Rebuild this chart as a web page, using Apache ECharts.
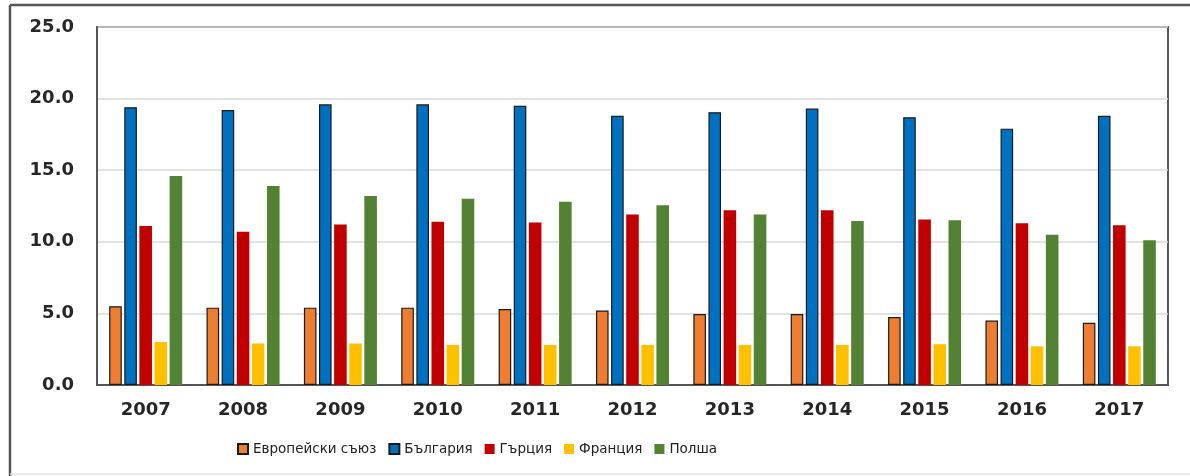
<!DOCTYPE html>
<html>
<head>
<meta charset="utf-8">
<script src="https://cdn.jsdelivr.net/npm/echarts@6/dist/echarts.min.js"></script>
<style>
  html, body { margin: 0; padding: 0; background: #ffffff; }
  #chart { width: 1190px; height: 476px; }
</style>
</head>
<body>
<div id="chart"></div>
<script>
// Years on the category axis
const years = ['2007', '2008', '2009', '2010', '2011', '2012', '2013', '2014', '2015', '2016', '2017'];

// Values per country, %
const euValues = [5.5, 5.4, 5.4, 5.4, 5.3, 5.2, 4.95, 4.95, 4.75, 4.5, 4.35];
const bulgariaValues = [19.4, 19.2, 19.6, 19.6, 19.5, 18.8, 19.05, 19.3, 18.7, 17.9, 18.8];
const greeceValues = [11.1, 10.7, 11.2, 11.4, 11.35, 11.9, 12.2, 12.2, 11.55, 11.3, 11.15];
const franceValues = [3.0, 2.9, 2.9, 2.8, 2.8, 2.8, 2.8, 2.8, 2.85, 2.7, 2.7];
const polandValues = [14.6, 13.9, 13.2, 13.0, 12.8, 12.55, 11.9, 11.45, 11.5, 10.5, 10.1];

// Series names shown in the legend
const seriesNames = ['Европейски съюз', 'България', 'Гърция', 'Франция', 'Полша'];

const chart = echarts.init(document.getElementById('chart'), null, { renderer: 'canvas' });

const labelFont = 'DejaVu Sans, Verdana, sans-serif';

function barSeries(name, data, color, outlined) {
  return {
    name: name,
    type: 'bar',
    data: data,
    barGap: '20%',
    barCategoryGap: '25%',
    itemStyle: outlined
      ? { color: color, borderColor: '#1a1a1a', borderWidth: 1.2 }
      : { color: color },
    emphasis: { disabled: true }
  };
}

chart.setOption({
  animation: false,
  backgroundColor: '#ffffff',
  grid: {
    left: 97, right: 22, top: 27, bottom: 91,
    show: true, borderColor: '#555555', borderWidth: 2, containLabel: false
  },
  legend: {
    data: seriesNames,
    left: 232, top: 437,
    itemWidth: 10, itemHeight: 10, itemGap: 12,
    icon: 'rect',
    textStyle: { fontFamily: labelFont, fontSize: 13.5, color: '#222222' }
  },
  xAxis: {
    type: 'category',
    data: years,
    axisLine: { show: true, lineStyle: { color: '#555555', width: 2 } },
    axisTick: { show: false },
    axisLabel: { fontFamily: labelFont, fontWeight: 'bold', fontSize: 18, color: '#262626', margin: 16 }
  },
  yAxis: {
    type: 'value',
    min: 0, max: 25, interval: 5,
    axisLine: { show: true, lineStyle: { color: '#555555', width: 2 } },
    axisTick: { show: false },
    splitLine: { lineStyle: { color: '#d9d9d9', width: 1.5 } },
    axisLabel: {
      fontFamily: labelFont, fontWeight: 'bold', fontSize: 18, color: '#262626', margin: 23,
      formatter: v => v.toFixed(1)
    }
  },
  graphic: [
    { type: 'line', shape: { x1: 10, y1: 5, x2: 1190, y2: 5 }, style: { stroke: '#555555', lineWidth: 2.5 }, silent: true },
    { type: 'line', shape: { x1: 10, y1: 5, x2: 10, y2: 476 }, style: { stroke: '#555555', lineWidth: 2.5 }, silent: true },
    { type: 'line', shape: { x1: 10, y1: 474, x2: 1190, y2: 474 }, style: { stroke: '#e0e0e0', lineWidth: 1.5 }, silent: true }
  ],
  series: [
    barSeries(seriesNames[0], euValues, '#ed7d31', true),
    barSeries(seriesNames[1], bulgariaValues, '#0070c0', true),
    barSeries(seriesNames[2], greeceValues, '#c00000', false),
    barSeries(seriesNames[3], franceValues, '#ffc000', false),
    barSeries(seriesNames[4], polandValues, '#548235', false)
  ]
});
</script>
</body>
</html>
